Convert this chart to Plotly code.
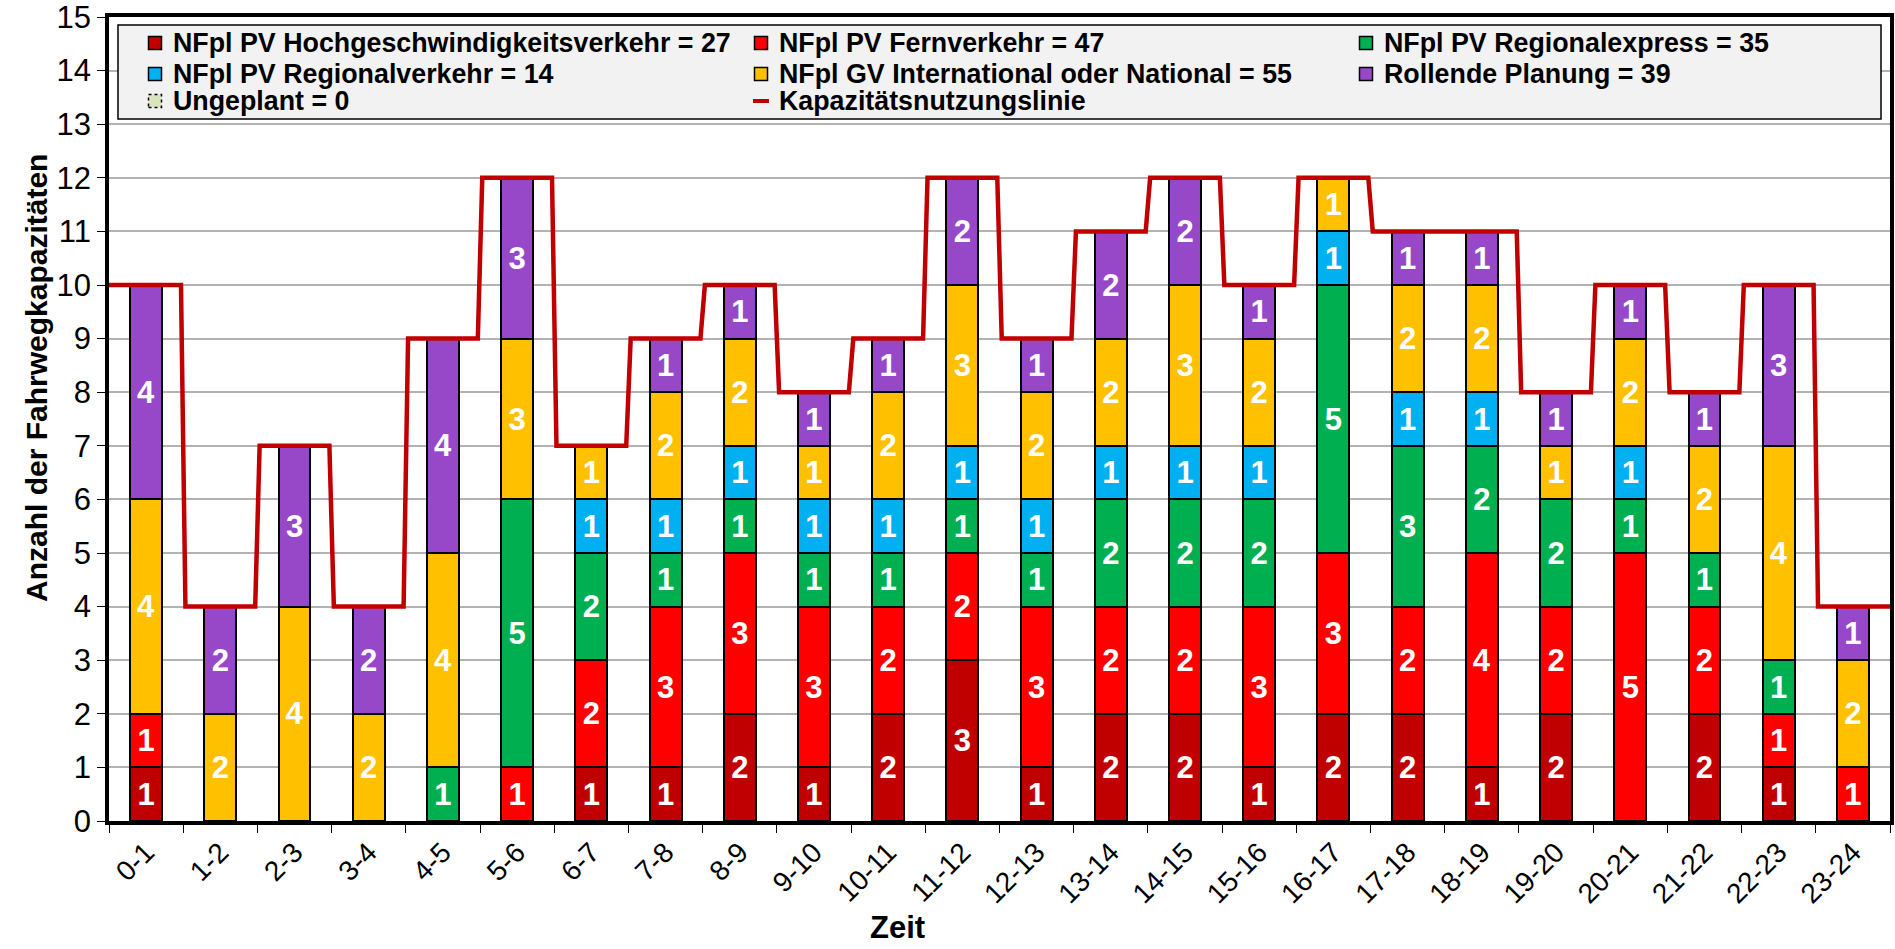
import plotly.graph_objects as go

# ---------------- data ----------------
zeit = ["0-1", "1-2", "2-3", "3-4", "4-5", "5-6", "6-7", "7-8", "8-9", "9-10",
        "10-11", "11-12", "12-13", "13-14", "14-15", "15-16", "16-17", "17-18",
        "18-19", "19-20", "20-21", "21-22", "22-23", "23-24"]

hgv = [1, 0, 0, 0, 0, 0, 1, 1, 2, 1, 2, 3, 1, 2, 2, 1, 2, 2, 1, 2, 0, 2, 1, 0]
fv  = [1, 0, 0, 0, 0, 1, 2, 3, 3, 3, 2, 2, 3, 2, 2, 3, 3, 2, 4, 2, 5, 2, 1, 1]
re_ = [0, 0, 0, 0, 1, 5, 2, 1, 1, 1, 1, 1, 1, 2, 2, 2, 5, 3, 2, 2, 1, 1, 1, 0]
rv  = [0, 0, 0, 0, 0, 0, 1, 1, 1, 1, 1, 1, 1, 1, 1, 1, 1, 1, 1, 0, 1, 0, 0, 0]
gv  = [4, 2, 4, 2, 4, 3, 1, 2, 2, 1, 2, 3, 2, 2, 3, 2, 1, 2, 2, 1, 2, 2, 4, 2]
rp  = [4, 2, 3, 2, 4, 3, 0, 1, 1, 1, 1, 2, 1, 2, 2, 1, 0, 1, 1, 1, 1, 1, 3, 1]
ungeplant = [0] * 24
kapazitaet = [10, 4, 7, 4, 9, 12, 7, 9, 10, 8, 9, 12, 9, 11, 12, 10, 12, 11, 11, 8, 10, 8, 10, 4]

series = [
    ("NFpl PV Hochgeschwindigkeitsverkehr", hgv, "#c00000"),
    ("NFpl PV Fernverkehr", fv, "#ff0000"),
    ("NFpl PV Regionalexpress", re_, "#00b050"),
    ("NFpl PV Regionalverkehr", rv, "#00b0f0"),
    ("NFpl GV International oder National", gv, "#ffc000"),
    ("Rollende Planung", rp, "#9748c8"),
]

# ---------------- layout geometry (pixels) ----------------
W, H = 1895, 949
ML, MR, MT, MB = 109, 5, 17, 128
PW, PH = W - ML - MR, H - MT - MB


def px(x):
    return (x - ML) / PW


def py(y):
    return (H - MB - y) / PH


FONT = "Liberation Sans, Arial, sans-serif"

fig = go.Figure()
xs = list(range(len(zeit)))

for name, vals, col in series:
    fig.add_trace(go.Bar(
        x=xs,
        y=[v if v else None for v in vals],
        name=name,
        marker=dict(color=col, line=dict(color="black", width=2)),
        text=[str(v) if v else "" for v in vals],
        textposition="inside",
        insidetextanchor="middle",
        textangle=0,
        textfont=dict(color="white", size=31, family=FONT, weight="bold"),
        showlegend=False,
        hoverinfo="skip",
    ))

# capacity step line
d = 0.03
lx, ly = [], []
n = len(kapazitaet)
for i, v in enumerate(kapazitaet):
    lx += [i - 0.5 + (0 if i == 0 else d), i + 0.5 - (0 if i == n - 1 else d)]
    ly += [v, v]
fig.add_trace(go.Scatter(
    x=lx, y=ly, mode="lines",
    line=dict(color="#c00000", width=4.5),
    name="Kapazitätsnutzungslinie", showlegend=False, hoverinfo="skip",
))

# ---------------- manual legend ----------------
shapes = []
annotations = []
shapes.append(dict(type="rect", xref="paper", yref="paper",
                   x0=px(118), x1=px(1881), y0=py(119), y1=py(25),
                   fillcolor="#f2f2f2", line=dict(color="black", width=1.5),
                   layer="above"))

col_x = [155, 761, 1366]
row_y = [43, 74, 101]
entries = [(f"{s[0]} = {sum(s[1])}", s[2], "bar") for s in series]
ordered = [entries[0], entries[1], entries[2],
           entries[3], entries[4], entries[5],
           (f"Ungeplant = {sum(ungeplant)}", "#d7e4bd", "dash"),
           ("Kapazitätsnutzungslinie", "#c00000", "line")]
for k, (label, col, kind) in enumerate(ordered):
    c, r = k % 3, k // 3
    cx, cy = col_x[c], row_y[r]
    if kind == "bar":
        shapes.append(dict(type="rect", xref="paper", yref="paper",
                           x0=px(cx - 6.5), x1=px(cx + 6.5), y0=py(cy + 6.5), y1=py(cy - 6.5),
                           fillcolor=col, line=dict(color="black", width=1.5), layer="above"))
    elif kind == "dash":
        shapes.append(dict(type="rect", xref="paper", yref="paper",
                           x0=px(cx - 6.5), x1=px(cx + 6.5), y0=py(cy + 6.5), y1=py(cy - 6.5),
                           fillcolor=col, line=dict(color="black", width=1.5, dash="dot"),
                           layer="above"))
    else:
        shapes.append(dict(type="line", xref="paper", yref="paper",
                           x0=px(cx - 8), x1=px(cx + 8), y0=py(cy), y1=py(cy),
                           line=dict(color=col, width=4), layer="above"))
    annotations.append(dict(xref="paper", yref="paper", x=px(cx + 16), y=py(cy),
                            xanchor="left", yanchor="middle", showarrow=False,
                            text=f"<b>{label}</b>",
                            font=dict(family=FONT, size=26.8, color="black")))

# axis titles
annotations.append(dict(xref="paper", yref="paper", x=px(36), y=py(378),
                        xanchor="center", yanchor="middle", showarrow=False,
                        textangle=-90, text="<b>Anzahl der Fahrwegkapazitäten</b>",
                        font=dict(family=FONT, size=30, color="black")))
annotations.append(dict(xref="paper", yref="paper", x=px(897), y=py(928),
                        xanchor="center", yanchor="middle", showarrow=False,
                        text="<b>Zeit</b>",
                        font=dict(family=FONT, size=31, color="black")))

fig.update_layout(
    width=W, height=H,
    margin=dict(l=ML, r=MR, t=MT, b=MB, autoexpand=False),
    barmode="stack", bargap=0.57,
    uniformtext=dict(mode="show", minsize=31),
    plot_bgcolor="white", paper_bgcolor="white",
    font=dict(family=FONT, color="black"),
    shapes=shapes, annotations=annotations,
    showlegend=False,
)
fig.update_xaxes(
    range=[-0.5, n - 0.5], tickmode="array", tickvals=xs, ticktext=zeit,
    tickangle=-45, ticks="", tickfont=dict(size=28, family=FONT, color="black"),
    showgrid=False, zeroline=False,
    showline=True, linecolor="black", linewidth=3.5, mirror=True,
    minor=dict(tickmode="array", tickvals=[i - 0.5 for i in range(n + 1)],
               ticks="outside", ticklen=8, tickcolor="black", tickwidth=1, showgrid=False),
)
fig.update_yaxes(
    range=[0, 15], tickmode="linear", tick0=0, dtick=1,
    ticks="outside", ticklen=8, tickcolor="black", tickwidth=1,
    tickfont=dict(size=31, family=FONT, color="black"),
    ticklabeloverflow="allow",
    showgrid=True, gridcolor="#b3b3b3", gridwidth=1.5, zeroline=False,
    showline=True, linecolor="black", linewidth=3.5, mirror=True,
)

fig.write_html(
    "out.html",
    config={"displayModeBar": False},
    post_script="document.body.style.margin='0px';document.body.style.overflow='hidden';",
)
